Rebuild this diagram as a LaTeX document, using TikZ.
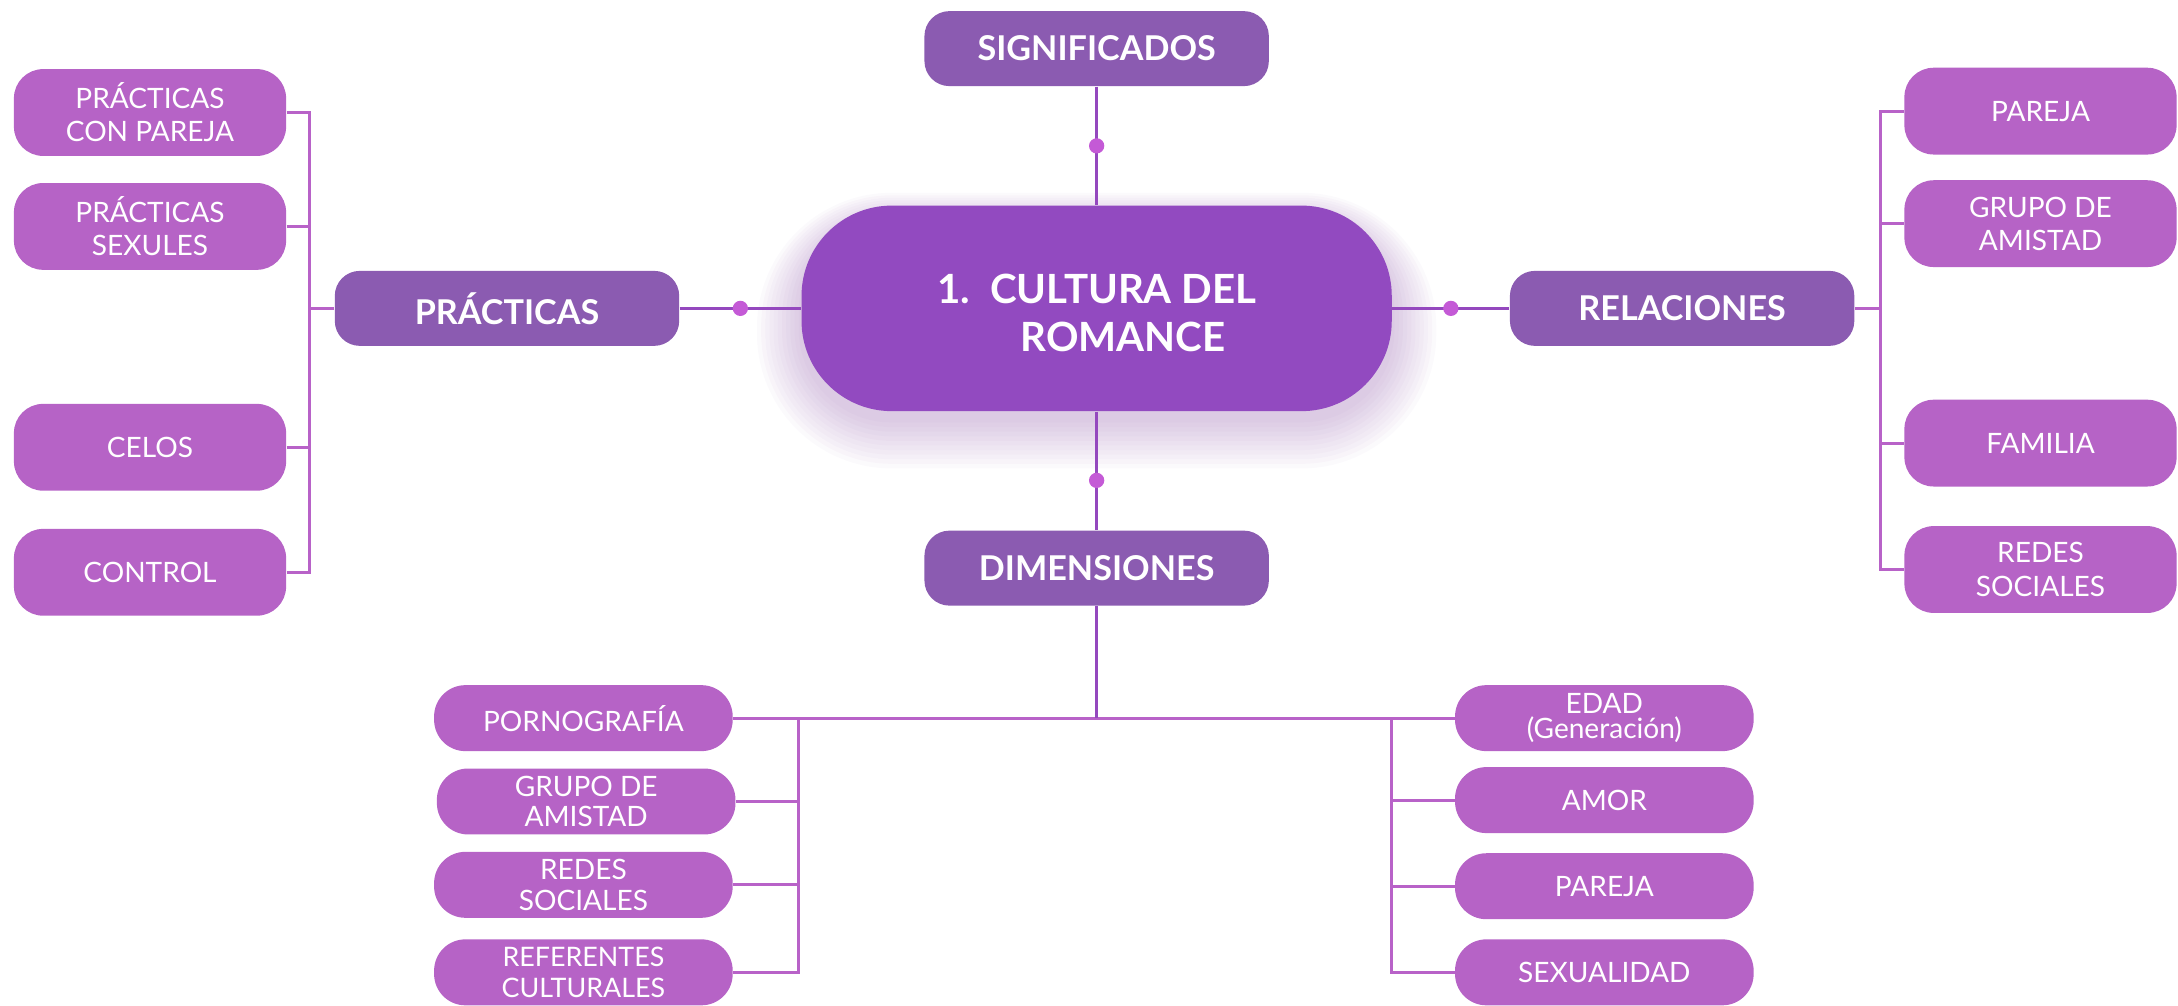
\documentclass[tikz,border=0pt]{standalone}
\usepackage{fontspec}
\setmainfont{Lato}
\usepackage{xcolor}
\definecolor{mainpurple}{HTML}{8B5BB1}
\definecolor{centrepurple}{HTML}{924AC0}
\definecolor{glowpurple}{HTML}{7A3A9A}
\definecolor{leafpurple}{HTML}{B663C6}
\definecolor{linepurple}{HTML}{9448BE}
\definecolor{buspurple}{HTML}{B862C8}
\definecolor{dotpink}{HTML}{C45AD6}

\begin{document}
\begin{tikzpicture}[x=0.02cm,y=-0.02cm,
  mainbox/.style={fill=mainpurple, text=white, font=\bfseries\fontsize{14}{16}\selectfont,
    rounded corners=0.36cm, minimum width=4.96cm, minimum height=1.08cm, inner sep=0pt},
  centrebox/.style={fill=centrepurple, text=white, font=\bfseries\fontsize{16.5}{19.5}\selectfont,
    rounded corners=1.3cm, minimum width=8.5cm, minimum height=2.96cm, inner sep=0pt},
  leafbox/.style={fill=leafpurple, text=white, font=\fontsize{11.5}{13.6}\selectfont,
    rounded corners=0.42cm, minimum width=3.92cm, minimum height=1.25cm, align=center, inner sep=0pt},
  lowbox/.style={leafbox, minimum width=4.3cm, minimum height=0.95cm, rounded corners=0.45cm,
    font=\fontsize{11.5}{12.5}\selectfont},
  link/.style={draw=linepurple, line width=1.2pt},
  bus/.style={draw=buspurple, line width=1.2pt},
  dot/.style={circle, fill=dotpink, minimum size=0.22cm, inner sep=0pt}]

\useasboundingbox (0,0) rectangle (1568,724);

% soft shadow round the centre box, heavier below
\foreach \g in {2,5,...,32}
  \fill[glowpurple, opacity=0.028, rounded corners={1.3cm+0.02cm*\g}]
    (577-\g,158-0.6*\g) rectangle (1002+\g,302+1.1*\g);

% Centre and the four main boxes
\node[centrebox] (cult) at (789.5,222) {\raisebox{-0.14cm}[\height][\depth]{\begin{tabular}{@{}l@{\hspace{0.5em}}c@{}}1. & CULTURA DEL\\ & ROMANCE\end{tabular}}};
\node[mainbox] (sig) at (789.5,35) {SIGNIFICADOS};
\node[mainbox] (dim) at (789.5,409) {DIMENSIONES};
\node[mainbox] (prac) at (365,222) {PRÁCTICAS};
\node[mainbox] (rel) at (1211,222) {RELACIONES};

% Left column
\node[leafbox] (pcp) at (108,81) {PRÁCTICAS\\CON PAREJA};
\node[leafbox] (psx) at (108,163) {PRÁCTICAS\\SEXULES};
\node[leafbox] (cel) at (108,322) {CELOS};
\node[leafbox] (ctl) at (108,412) {CONTROL};

% Right column
\node[leafbox] (rpar) at (1469,80) {PAREJA};
\node[leafbox] (ramis) at (1469,161) {GRUPO DE\\AMISTAD};
\node[leafbox] (rfam) at (1469,319) {FAMILIA};
\node[leafbox] (rred) at (1469,410) {REDES\\SOCIALES};

% Bottom left
\node[lowbox] (porn) at (420,517) {PORNOGRAFÍA};
\node[lowbox] (bamis) at (422,577) {GRUPO DE\\AMISTAD};
\node[lowbox] (bred) at (420,637) {REDES\\SOCIALES};
\node[lowbox] (bref) at (420,700) {\fontsize{11}{11.5}\selectfont REFERENTES\\\fontsize{11}{11.5}\selectfont CULTURALES};

% Bottom right
\node[lowbox] (edad) at (1155,517) {EDAD\\[-2.5pt](Generación)};
\node[lowbox] (amor) at (1155,576) {AMOR};
\node[lowbox] (bpar) at (1155,638) {PAREJA};
\node[lowbox] (sexu) at (1155,700) {SEXUALIDAD};

% Links from the centre
\draw[link] (sig) -- node[dot, pos=0.5] {} (cult);
\draw[link] (cult) -- node[dot, pos=0.58] {} (dim);
\draw[link] (prac) -- node[dot, pos=0.5] {} (cult);
\draw[link] (cult) -- node[dot, pos=0.5] {} (rel);

% Buses
\coordinate (lbus) at (223,222);
\coordinate (rbus) at (1354,222);
\coordinate (dbus) at (789.5,517);
\coordinate (lbb) at (575,517);
\coordinate (rbb) at (1002,517);

\draw[bus] (prac) -- (lbus);
\foreach \n in {pcp,psx,cel,ctl}
  \draw[bus] (\n) -| (lbus);

\draw[bus] (rel) -- (rbus);
\foreach \n in {rpar,ramis,rfam,rred}
  \draw[bus] (\n) -| (rbus);

\draw[bus] (porn) -- (edad);
\draw[link] (dim) -- (dbus);
\foreach \n in {bamis,bred,bref}
  \draw[bus] (\n) -| (lbb);
\foreach \n in {amor,bpar,sexu}
  \draw[bus] (\n) -| (rbb);

\end{tikzpicture}
\end{document}
